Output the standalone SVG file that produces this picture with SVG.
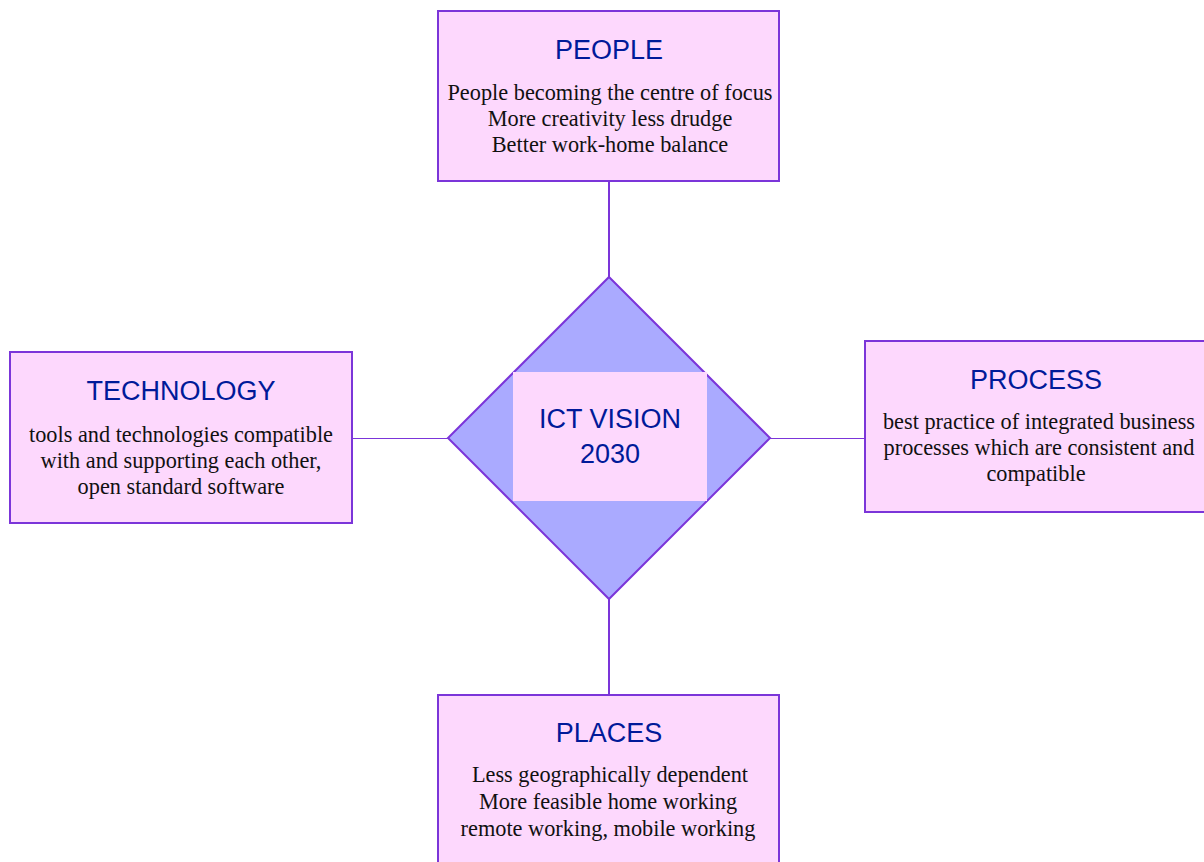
<svg xmlns="http://www.w3.org/2000/svg" width="1204" height="862" viewBox="0 0 1204 862">
<style>
.box{fill:#fdd8fd;stroke:#7b35d9;stroke-width:2}
.title{font-family:"Liberation Sans",Arial,sans-serif;font-size:27px;fill:#001a99;text-anchor:middle}
.body{font-family:"Liberation Serif","Times New Roman",serif;font-size:22.3px;fill:#111;text-anchor:middle}
.conn{stroke:#7b35d9;fill:none}
</style>
<rect width="1204" height="862" fill="#fff"/>
<g id="connectors">
<line class="conn" x1="609" y1="181" x2="609" y2="277" stroke-width="2"/>
<line class="conn" x1="609" y1="599" x2="609" y2="695" stroke-width="2"/>
<line class="conn" x1="352" y1="438.5" x2="448" y2="438.5" stroke-width="1"/>
<line class="conn" x1="770" y1="438.5" x2="865" y2="438.5" stroke-width="1"/>
</g>
<g id="center">
<polygon points="609,277 770,438 609,599 448,438" fill="#aaaaff" stroke="#7b35d9" stroke-width="2"/>
<rect x="513" y="372" width="194" height="129" fill="#fdd8fd"/>
<text class="title" x="610" y="428">ICT VISION</text>
<text class="title" x="610" y="463">2030</text>
</g>
<g id="people">
<rect class="box" x="438" y="11" width="341" height="170"/>
<text class="title" x="609" y="59">PEOPLE</text>
<text class="body" x="610" y="100">People becoming the centre of focus</text>
<text class="body" x="610" y="126">More creativity less drudge</text>
<text class="body" x="610" y="152">Better work-home balance</text>
</g>
<g id="technology">
<rect class="box" x="10" y="352" width="342" height="171"/>
<text class="title" x="181" y="400">TECHNOLOGY</text>
<text class="body" x="181" y="442">tools and technologies compatible</text>
<text class="body" x="181" y="468">with and supporting each other,</text>
<text class="body" x="181" y="494">open standard software</text>
</g>
<g id="process">
<rect class="box" x="865" y="341" width="340" height="171"/>
<text class="title" x="1036" y="389">PROCESS</text>
<text class="body" x="1039" y="429">best practice of integrated business</text>
<text class="body" x="1039" y="455">processes which are consistent and</text>
<text class="body" x="1036" y="481">compatible</text>
</g>
<g id="places">
<rect class="box" x="438" y="695" width="341" height="170"/>
<text class="title" x="609" y="742">PLACES</text>
<text class="body" x="610" y="782">Less geographically dependent</text>
<text class="body" x="608" y="809">More feasible home working</text>
<text class="body" x="608" y="836">remote working, mobile working</text>
</g>
</svg>
